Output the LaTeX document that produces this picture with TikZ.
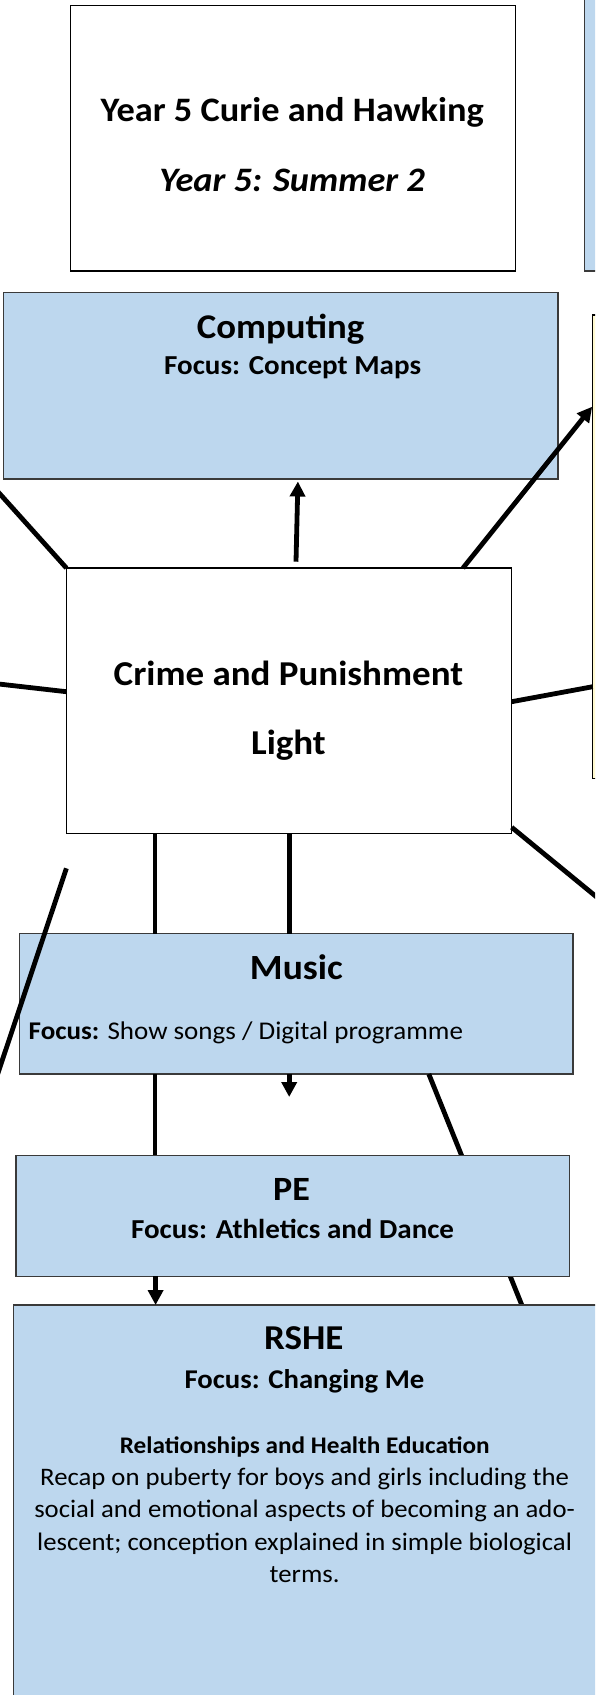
\documentclass[tikz,border=0pt]{standalone}
\usepackage{fontspec}
\setmainfont{Carlito}[FakeStretch=1.06]
\usetikzlibrary{arrows.meta}
\definecolor{boxblue}{HTML}{BDD7EE}
\definecolor{boxyellow}{HTML}{FFF27A}
\definecolor{edgegrey}{HTML}{3A3A3A}
\tikzset{
  box/.style={draw=black, line width=1.3pt, inner sep=0pt, outer sep=0pt, anchor=north west, fill=white},
  bluebox/.style={box, draw=edgegrey, fill=boxblue},
  conn/.style={line width=4.8pt, black},
  arr/.style={conn, -{Triangle[width=15pt,length=15pt]}},
  txt/.style={inner sep=0pt, align=center},
  bodyline/.style={inner sep=0pt, anchor=base, font=\fs{25.2}},
}
\newcommand{\fs}[1]{\fontsize{#1}{#1}\selectfont}
\begin{document}
\begin{tikzpicture}[x=1pt,y=-1pt]
\useasboundingbox (0,0) rectangle (595,1695);
\clip (0,0) rectangle (595,1695);
% boxes
\node[box, minimum width=445.1pt, minimum height=265.5pt] (title) at (70.2,5.5) {};
\node[bluebox, minimum width=40pt, minimum height=281pt] (topright) at (584.8,-10) {};
\node[bluebox, minimum width=554.1pt, minimum height=186.7pt] (comp) at (3.8,292.3) {};
\node[box, fill=boxyellow!35, minimum width=30pt, minimum height=463.3pt] (box2) at (592.7,315) {};
\node[box, minimum width=445.2pt, minimum height=265.3pt] (central) at (66.4,568) {};
\node[bluebox, minimum width=553.3pt, minimum height=140.5pt] (music) at (19.7,933.5) {};
% line hidden behind PE
\coordinate (dA) at (428.8,1074);
\coordinate (dB) at (521.8,1305);
\draw[conn] (dA) -- (dB);
\node[bluebox, minimum width=553.4pt, minimum height=121.1pt] (pe) at (15.9,1155.3) {};
\node[bluebox, minimum width=620pt, minimum height=420pt] (rshe) at (13.3,1305) {};

% texts
\node[txt, font=\fs{34.3}\bfseries] (t1) at (292.2,112) {Year 5 Curie and Hawking};
\node[txt, font=\fs{34.3}\bfseries\itshape] (t2) at (292.2,180) {Year 5: Summer 2};
\node[txt, font=\fs{34.7}\bfseries] (c1) at (280.6,329.7) {Computing};
\node[txt, font=\fs{27.4}\bfseries] (c2) at (292.6,367.8) {Focus: Concept Maps};
\node[txt, font=\fs{34.9}\bfseries] (m1) at (288.4,673) {Crime and Punishment};
\node[txt, font=\fs{34.9}\bfseries] (m2) at (288.4,745) {Light};
\node[txt, font=\fs{35.4}\bfseries] (mu1) at (296.4,966.7) {Music};
\node[txt, font=\fs{25.5}, anchor=west] (mu2) at (28.5,1033) {\textbf{Focus:} Show songs / Digital programme};
\node[txt, font=\fs{34}\bfseries] (p1) at (291.6,1189) {PE};
\node[txt, font=\fs{27.4}\bfseries] (p2) at (292.6,1229) {Focus: Athletics and Dance};
\node[txt, font=\fs{34.9}\bfseries] (r1) at (303.8,1338) {RSHE};
\node[txt, font=\fs{27.1}\bfseries] (r2) at (304.5,1381.7) {Focus: Changing Me};
\node[txt, font=\fs{23.8}\bfseries] (r3) at (304.7,1446.7) {Relationships and Health Education};
\node[bodyline] (r4) at (304.6,1485) {Recap on puberty for boys and girls including the};
\node[bodyline] (r5) at (304.6,1517.5) {social and emotional aspects of becoming an ado-};
\node[bodyline] (r6) at (304.6,1550) {lescent; conception explained in simple biological};
\node[bodyline] (r7) at (304.6,1582.5) {terms.};

% connectors
\coordinate (upS) at (296,561.7);
\coordinate (upE) at (297.9,481.5);
\draw[arr] (upS) -- (upE);
\coordinate (nwOut) at (-10,482.9);
\draw[conn] (central.north west) -- (nwOut);
\coordinate (ctop) at (463,568);
\coordinate (b2in) at (592.2,406.7);
\draw[arr] (ctop) -- (b2in);
\coordinate (cL) at (66.4,691.7);
\coordinate (lOut) at (-10,683);
\draw[conn] (cL) -- (lOut);
\coordinate (cR) at (511.6,701.7);
\coordinate (b2L) at (592.7,686.7);
\draw[conn] (cR) -- (b2L);
\coordinate (cBR) at (511.7,827.3);
\coordinate (brOut) at (607,905.5);
\draw[conn] (cBR) -- (brOut);
\coordinate (sA) at (66.4,868.3);
\coordinate (sB) at (-5,1082);
\draw[conn] (sA) -- (sB);
\draw[conn] (central.south -| 155,0) -- (music.north -| 155,0);
\draw[conn] (central.south -| 289.2,0) -- (music.north -| 289.2,0);
\draw[conn] (music.south -| 155,0) -- (pe.north -| 155,0);
\coordinate (muArr) at (289.2,1097);
\draw[arr] (music.south -| 289.2,0) -- (muArr);
\draw[arr] (pe.south -| 155.6,0) -- (rshe.north -| 155.6,0);
\end{tikzpicture}
\end{document}
